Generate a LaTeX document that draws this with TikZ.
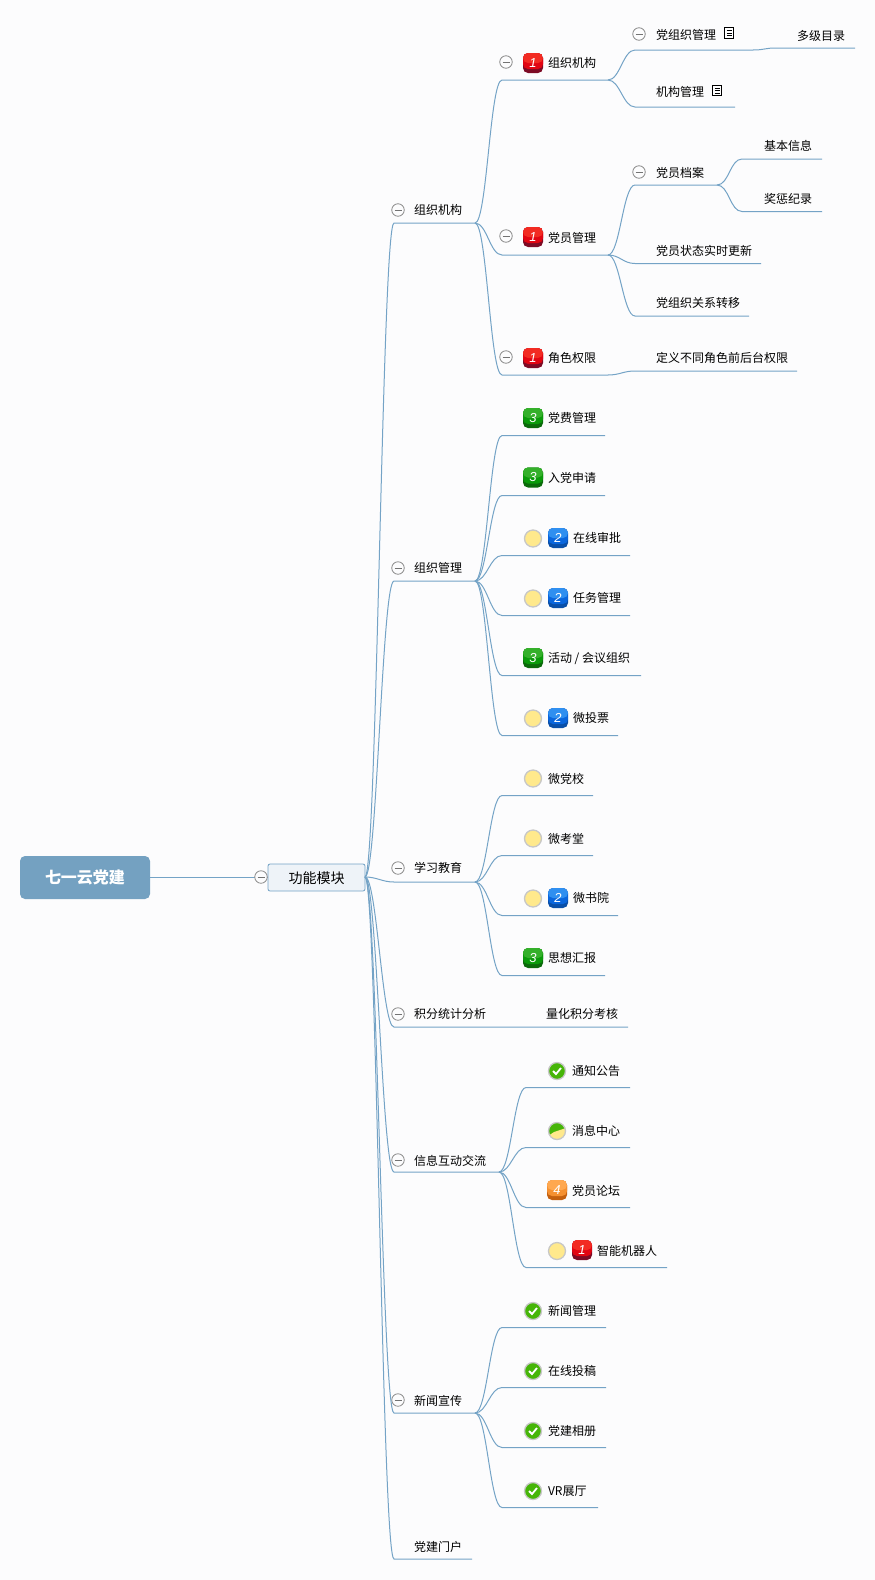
\documentclass[tikz,border=0pt]{standalone}
\usepackage{fontspec}
\setmainfont{Noto Sans CJK SC}
\newfontfamily\numfont{Liberation Sans}
\usetikzlibrary{calc}

\definecolor{wire}{HTML}{74A3C6}
\definecolor{rootblue}{HTML}{74A1C1}
\definecolor{modfill}{HTML}{EEF3F8}
\definecolor{paper}{HTML}{FCFCFD}
\definecolor{sun}{HTML}{FFE98C}
\definecolor{leaf}{HTML}{46B508}
\definecolor{redT}{HTML}{F22B22}
\definecolor{redL}{HTML}{E10512}
\definecolor{redB}{HTML}{7D0B25}
\definecolor{blueT}{HTML}{2F8FF0}
\definecolor{blueL}{HTML}{0A66DD}
\definecolor{blueB}{HTML}{0A4FA8}
\definecolor{greenT}{HTML}{34B02A}
\definecolor{greenL}{HTML}{0A9A0A}
\definecolor{greenB}{HTML}{0A6A0A}
\definecolor{orangeT}{HTML}{FFA850}
\definecolor{orangeL}{HTML}{F59030}
\definecolor{orangeB}{HTML}{C4600F}

\tikzset{
  lbl/.style={anchor=west,inner sep=0pt,xshift=-0.2pt,yshift=-0.2pt,text height=10pt,text depth=1.5pt,font=\fontsize{12}{14}\selectfont},
  branch/.style={line width=1pt,wire,to path={.. controls ($(\tikztostart)+(12,0)$) and ($(\tikztotarget)+(-12,0)$) .. (\tikztotarget)}},
  fold/.style={circle,draw=black!45,fill=paper,line width=0.8pt,minimum size=12.5pt,inner sep=0pt,
    path picture={\draw[black!55,line width=0.8pt] ([xshift=-3.5pt]path picture bounding box.center) -- ([xshift=3.5pt]path picture bounding box.center);}},
  note/.style={rectangle,draw=black,fill=white,line width=0.8pt,minimum width=9pt,minimum height=10.5pt,inner sep=0pt,
    path picture={\draw[black,line width=0.7pt] ([xshift=-2.5pt,yshift=2.5pt]path picture bounding box.center) -- ([xshift=2.5pt,yshift=2.5pt]path picture bounding box.center)
      ([xshift=-2.5pt]path picture bounding box.center) -- ([xshift=2.5pt]path picture bounding box.center)
      ([xshift=-2.5pt,yshift=-2.5pt]path picture bounding box.center) -- ([xshift=2.5pt,yshift=-2.5pt]path picture bounding box.center);}},
  badge/.style n args={3}{rectangle,rounded corners=5pt,minimum size=20pt,inner sep=0pt,text=white,
    font=\numfont\fontsize{13}{14}\selectfont\itshape,fill=#3,
    path picture={\fill[#2] ([yshift=4pt]path picture bounding box.south west) rectangle (path picture bounding box.north east);
      \fill[#1] (path picture bounding box.west) rectangle (path picture bounding box.north east);}},
  pone/.style={badge={redT}{redL}{redB}},
  ptwo/.style={badge={blueT}{blueL}{blueB}},
  pthree/.style={badge={greenT}{greenL}{greenB}},
  pfour/.style={badge={orangeT}{orangeL}{orangeB}},
  face/.style={circle,draw=black!22,fill=sun,line width=1.3pt,minimum size=17pt,inner sep=0pt},
  done/.style={circle,draw=black!22,fill=leaf,line width=1.3pt,minimum size=17pt,inner sep=0pt,
    path picture={\draw[white,line width=1.8pt] ([shift={(-4pt,0pt)}]path picture bounding box.center) -- ([shift={(-1pt,-3pt)}]path picture bounding box.center) -- ([shift={(4pt,3pt)}]path picture bounding box.center);}},
  part/.style={circle,draw=black!22,fill=leaf,line width=1.3pt,minimum size=17pt,inner sep=0pt,
    path picture={\fill[sun] ([shift={(-9pt,-5pt)}]path picture bounding box.center) -- ([shift={(-3pt,-1pt)}]path picture bounding box.center) -- ([shift={(9pt,3pt)}]path picture bounding box.center) -- ([shift={(9pt,-9pt)}]path picture bounding box.center) -- ([shift={(-9pt,-9pt)}]path picture bounding box.center) -- cycle;}},
}

\begin{document}
\begin{tikzpicture}[x=1pt,y=-1pt]

  \fill[paper] (0,0) rectangle (875,1580);

  \node[rectangle,rounded corners=5pt,fill=rootblue,text=white,minimum width=130pt,minimum height=43pt,inner sep=0pt,text height=12pt,text depth=0pt,font=\fontsize{16}{18}\selectfont\bfseries] (root) at (85,877.5) {七一云党建};
  \node[rectangle,rounded corners=2pt,draw=wire,fill=modfill,line width=0.8pt,minimum width=97pt,minimum height=27pt,inner sep=0pt,text height=11pt,text depth=0pt,font=\fontsize{14}{16}\selectfont] (mod) at (316.5,877.5) {功能模块};
  \draw[line width=1pt,wire] (root) -- (mod);
  \node[fold] (modF) at (261,877) {};
  \coordinate (modR) at (365,877);

  % first level
  \node[lbl] (org) at (414,210.5) {组织机构};
  \node[fold] (orgF) at (398,210) {};
  \coordinate (orgL) at (394,223); \coordinate (orgR) at (475,223);
  \draw[branch] (modR) to (orgL) -- (orgR);

  \node[lbl] (mgt) at (414,568.5) {组织管理};
  \node[fold] (mgtF) at (398,568) {};
  \coordinate (mgtL) at (394,581); \coordinate (mgtR) at (475,581);
  \draw[branch] (modR) to (mgtL) -- (mgtR);

  \node[lbl] (edu) at (414,868.5) {学习教育};
  \node[fold] (eduF) at (398,868) {};
  \coordinate (eduL) at (394,882); \coordinate (eduR) at (475,882);
  \draw[branch] (modR) to (eduL) -- (eduR);

  \node[lbl] (pts) at (414,1014.5) {积分统计分析};
  \node[lbl] (ptsB) at (546,1014.5) {量化积分考核};
  \node[fold] (ptsF) at (398,1014) {};
  \coordinate (ptsL) at (394,1027); \coordinate (ptsR) at (628,1027);
  \draw[branch] (modR) to (ptsL) -- (ptsR);

  \node[lbl] (msg) at (414,1161) {信息互动交流};
  \node[fold] (msgF) at (398,1160) {};
  \coordinate (msgL) at (394,1172); \coordinate (msgR) at (499,1172);
  \draw[branch] (modR) to (msgL) -- (msgR);

  \node[lbl] (news) at (414,1401) {新闻宣传};
  \node[fold] (newsF) at (398,1400) {};
  \coordinate (newsL) at (394,1413); \coordinate (newsR) at (475,1413);
  \draw[branch] (modR) to (newsL) -- (newsR);

  \node[lbl] (web) at (414,1547) {党建门户};
  \coordinate (webL) at (394,1559); \coordinate (webR) at (472,1559);
  \draw[branch] (modR) to (webL) -- (webR);

  % organisation
  \node[lbl] (orgA) at (548,63) {组织机构};
  \node[fold] (orgAF) at (506,62) {};
  \node[pone] (orgAP) at (533,63) {1};
  \coordinate (orgAL) at (502,80); \coordinate (orgAR) at (608,80);
  \draw[branch] (orgR) to (orgAL) -- (orgAR);

  \node[lbl] (orgB) at (548,238) {党员管理};
  \node[fold] (orgBF) at (506,236) {};
  \node[pone] (orgBP) at (533,237) {1};
  \coordinate (orgBL) at (502,255); \coordinate (orgBR) at (608,255);
  \draw[branch] (orgR) to (orgBL) -- (orgBR);

  \node[lbl] (orgC) at (548,358.5) {角色权限};
  \node[fold] (orgCF) at (506,357) {};
  \node[pone] (orgCP) at (533,358) {1};
  \coordinate (orgCL) at (502,375); \coordinate (orgCR) at (608,375);
  \draw[branch] (orgR) to (orgCL) -- (orgCR);

  \node[lbl] (branchA) at (656,35) {党组织管理};
  \node[fold] (branchAF) at (639,34) {};
  \node[note] (branchAN) at (729,33) {};
  \coordinate (branchAL) at (635,50); \coordinate (branchAR) at (753,50);
  \draw[branch] (orgAR) to (branchAL) -- (branchAR);

  \node[lbl] (levels) at (797,36) {多级目录};
  \coordinate (levelsL) at (776,48); \coordinate (levelsR) at (855,48);
  \draw[branch] (branchAR) to (levelsL) -- (levelsR);

  \node[lbl] (branchB) at (656,92) {机构管理};
  \node[note] (branchBN) at (717,90.5) {};
  \coordinate (branchBL) at (635,107); \coordinate (branchBR) at (735,107);
  \draw[branch] (orgAR) to (branchBL) -- (branchBR);

  \node[lbl] (fileA) at (656,173.5) {党员档案};
  \node[fold] (fileAF) at (639,172) {};
  \coordinate (fileAL) at (635,185); \coordinate (fileAR) at (717,185);
  \draw[branch] (orgBR) to (fileAL) -- (fileAR);

  \node[lbl] (baseA) at (764,146.5) {基本信息};
  \coordinate (baseAL) at (742,159); \coordinate (baseAR) at (822,159);
  \draw[branch] (fileAR) to (baseAL) -- (baseAR);

  \node[lbl] (baseB) at (764,199) {奖惩纪录};
  \coordinate (baseBL) at (742,211.5); \coordinate (baseBR) at (822,211.5);
  \draw[branch] (fileAR) to (baseBL) -- (baseBR);

  \node[lbl] (fileB) at (656,251) {党员状态实时更新};
  \coordinate (fileBL) at (635,263.5); \coordinate (fileBR) at (761,263.5);
  \draw[branch] (orgBR) to (fileBL) -- (fileBR);

  \node[lbl] (fileC) at (656,303) {党组织关系转移};
  \coordinate (fileCL) at (635,316); \coordinate (fileCR) at (749,316);
  \draw[branch] (orgBR) to (fileCL) -- (fileCR);

  \node[lbl] (roleA) at (656,358.5) {定义不同角色前后台权限};
  \coordinate (roleAL) at (635,371); \coordinate (roleAR) at (797,371);
  \draw[branch] (orgCR) to (roleAL) -- (roleAR);

  % management
  \node[lbl] (mgtA) at (548,418) {党费管理};
  \node[pthree] (mgtAP) at (533,418) {3};
  \coordinate (mgtAL) at (502,435.5); \coordinate (mgtAR) at (605,435.5);
  \draw[branch] (mgtR) to (mgtAL) -- (mgtAR);

  \node[lbl] (mgtB) at (548,478) {入党申请};
  \node[pthree] (mgtBP) at (533,477.5) {3};
  \coordinate (mgtBL) at (502,495.5); \coordinate (mgtBR) at (605,495.5);
  \draw[branch] (mgtR) to (mgtBL) -- (mgtBR);

  \node[lbl] (mgtC) at (573,538.5) {在线审批};
  \node[face] (mgtCS) at (533,538.5) {};
  \node[ptwo] (mgtCP) at (558,538) {2};
  \coordinate (mgtCL) at (502,555.5); \coordinate (mgtCR) at (630,555.5);
  \draw[branch] (mgtR) to (mgtCL) -- (mgtCR);

  \node[lbl] (mgtD) at (573,598.5) {任务管理};
  \node[face] (mgtDS) at (533,598.5) {};
  \node[ptwo] (mgtDP) at (558,598) {2};
  \coordinate (mgtDL) at (502,615.5); \coordinate (mgtDR) at (630,615.5);
  \draw[branch] (mgtR) to (mgtDL) -- (mgtDR);

  \node[lbl] (mgtE) at (548,658.5) {活动 / 会议组织};
  \node[pthree] (mgtEP) at (533,658) {3};
  \coordinate (mgtEL) at (502,675.5); \coordinate (mgtER) at (641,675.5);
  \draw[branch] (mgtR) to (mgtEL) -- (mgtER);

  \node[lbl] (mgtG) at (573,718.5) {微投票};
  \node[face] (mgtGS) at (533,718.5) {};
  \node[ptwo] (mgtGP) at (558,718) {2};
  \coordinate (mgtGL) at (502,735.5); \coordinate (mgtGR) at (618,735.5);
  \draw[branch] (mgtR) to (mgtGL) -- (mgtGR);

  % study
  \node[lbl] (eduA) at (548,779) {微党校};
  \node[face] (eduAS) at (533,778.5) {};
  \coordinate (eduAL) at (502,795.5); \coordinate (eduAR) at (593,795.5);
  \draw[branch] (eduR) to (eduAL) -- (eduAR);

  \node[lbl] (eduB) at (548,839) {微考堂};
  \node[face] (eduBS) at (533,838.5) {};
  \coordinate (eduBL) at (502,855.5); \coordinate (eduBR) at (593,855.5);
  \draw[branch] (eduR) to (eduBL) -- (eduBR);

  \node[lbl] (eduC) at (573,898.5) {微书院};
  \node[face] (eduCS) at (533,898.5) {};
  \node[ptwo] (eduCP) at (558,898) {2};
  \coordinate (eduCL) at (502,915.5); \coordinate (eduCR) at (618,915.5);
  \draw[branch] (eduR) to (eduCL) -- (eduCR);

  \node[lbl] (eduD) at (548,958.5) {思想汇报};
  \node[pthree] (eduDP) at (533,958) {3};
  \coordinate (eduDL) at (502,975.5); \coordinate (eduDR) at (605,975.5);
  \draw[branch] (eduR) to (eduDL) -- (eduDR);

  % messages
  \node[lbl] (msgA) at (572,1071) {通知公告};
  \node[done] (msgAS) at (557,1071) {};
  \coordinate (msgAL) at (526,1087.5); \coordinate (msgAR) at (630,1087.5);
  \draw[branch] (msgR) to (msgAL) -- (msgAR);

  \node[lbl] (msgB) at (572,1131) {消息中心};
  \node[part] (msgBS) at (557,1131) {};
  \coordinate (msgBL) at (526,1147.5); \coordinate (msgBR) at (630,1147.5);
  \draw[branch] (msgR) to (msgBL) -- (msgBR);

  \node[lbl] (msgC) at (572,1191) {党员论坛};
  \node[pfour] (msgCP) at (557,1190) {4};
  \coordinate (msgCL) at (526,1207.5); \coordinate (msgCR) at (630,1207.5);
  \draw[branch] (msgR) to (msgCL) -- (msgCR);

  \node[lbl] (msgD) at (597,1251) {智能机器人};
  \node[face] (msgDS) at (557,1251) {};
  \node[pone] (msgDP) at (582,1250) {1};
  \coordinate (msgDL) at (526,1267.5); \coordinate (msgDR) at (667,1267.5);
  \draw[branch] (msgR) to (msgDL) -- (msgDR);

  % news
  \node[lbl] (newsA) at (548,1311) {新闻管理};
  \node[done] (newsAS) at (533,1311) {};
  \coordinate (newsAL) at (502,1327.5); \coordinate (newsAR) at (606,1327.5);
  \draw[branch] (newsR) to (newsAL) -- (newsAR);

  \node[lbl] (newsB) at (548,1371) {在线投稿};
  \node[done] (newsBS) at (533,1371) {};
  \coordinate (newsBL) at (502,1387.5); \coordinate (newsBR) at (606,1387.5);
  \draw[branch] (newsR) to (newsBL) -- (newsBR);

  \node[lbl] (newsC) at (548,1431) {党建相册};
  \node[done] (newsCS) at (533,1431) {};
  \coordinate (newsCL) at (502,1447.5); \coordinate (newsCR) at (606,1447.5);
  \draw[branch] (newsR) to (newsCL) -- (newsCR);

  \node[lbl] (newsD) at (548,1491) {VR展厅};
  \node[done] (newsDS) at (533,1491) {};
  \coordinate (newsDL) at (502,1507.5); \coordinate (newsDR) at (598,1507.5);
  \draw[branch] (newsR) to (newsDL) -- (newsDR);

\end{tikzpicture}
\end{document}
